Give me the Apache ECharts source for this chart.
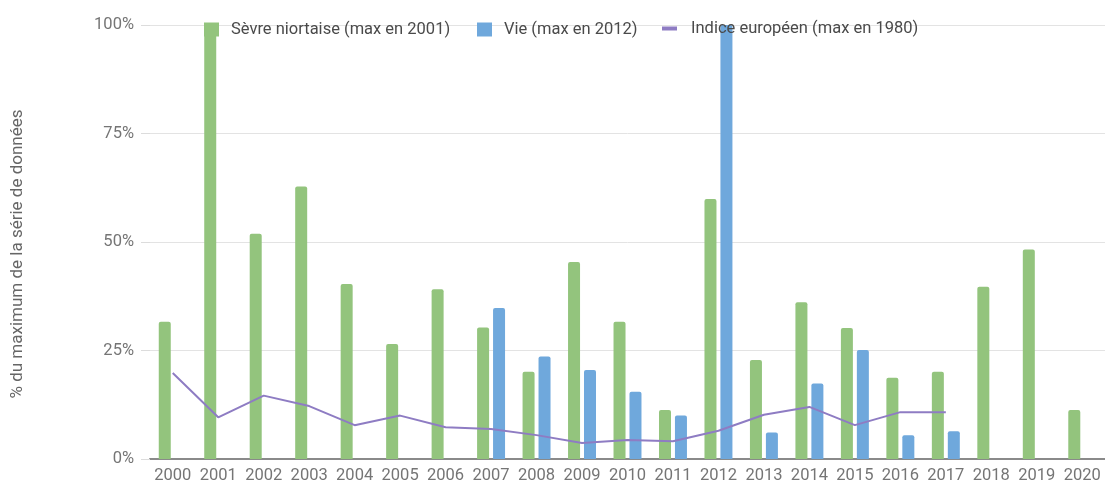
<!DOCTYPE html>
<html>
<head>
<meta charset="utf-8">
<script src="https://cdn.jsdelivr.net/npm/echarts@6/dist/echarts.min.js"></script>
<style>
html,body{margin:0;padding:0;background:#fff;}
#c{width:1105px;height:484px;}
</style>
</head>
<body>
<div id="c"></div>
<script>
var years = ['2000','2001','2002','2003','2004','2005','2006','2007','2008','2009','2010','2011','2012','2013','2014','2015','2016','2017','2018','2019','2020'];
var sevre = [31.6,100,51.9,62.8,40.3,26.5,39.1,30.3,20.1,45.4,31.6,11.3,59.9,22.8,36.1,30.2,18.7,20.1,39.7,48.3,11.3];
var vie = [null,null,null,null,null,null,null,34.8,23.6,20.5,15.5,10.0,100,6.1,17.4,25.1,5.5,6.4,null,null,null];
var indice = [19.8,9.6,14.6,12.2,7.8,10.0,7.3,6.9,5.5,3.7,4.4,4.1,6.5,10.2,12.0,7.8,10.8,10.8,null,null,null];
var seriesNames = ['Sèvre niortaise (max en 2001)','Vie (max en 2012)','Indice européen (max en 1980)'];
var yAxisTitle = '% du maximum de la série de données';

var green = '#93c47d', blue = '#6fa8dc', purple = '#8e7cc3';
var font = 'Roboto';
var chart = echarts.init(document.getElementById('c'));
function legend(name, left, top, icon, w, h, pad) {
  return {
    data: [{name: name, icon: icon}],
    left: left, top: top, padding: 0,
    itemWidth: w, itemHeight: h,
    textStyle: {fontFamily: font, fontSize: 16.5, color: '#4a4a4a', padding: [0,0,0,pad]},
    selectedMode: false
  };
}
chart.setOption({
  animation: false,
  textStyle: {fontFamily: font},
  grid: {left: 150, top: 25, width: 957, height: 435},
  legend: [
    legend(seriesNames[0], 204, 21, 'rect', 15, 14, 7),
    legend(seriesNames[1], 477, 21, 'rect', 15, 14, 7),
    legend(seriesNames[2], 662, 20, 'path://M0,0 L15,0 L15,4 L0,4 Z', 15, 4, 9)
  ],
  graphic: [{
    type: 'text', x: 18, y: 254, rotation: Math.PI/2,
    style: {text: yAxisTitle, fontFamily: font, fontSize: 17, fill: '#666', align: 'center', verticalAlign: 'middle'}
  }],
  xAxis: {
    type: 'category', data: years,
    axisLine: {lineStyle: {color: '#8a8a8a', width: 2}},
    axisTick: {show: false},
    axisLabel: {fontFamily: font, fontSize: 16.5, color: '#757575', margin: 8, interval: 0}
  },
  yAxis: {
    type: 'value', min: 0, max: 100, interval: 25,
    axisLine: {show: false},
    axisTick: {show: true, length: 9, lineStyle: {color: '#dcdcdc'}},
    splitLine: {lineStyle: {color: '#e3e3e3'}},
    axisLabel: {fontFamily: font, fontSize: 16.5, color: '#757575', margin: 16, formatter: '{value}%'}
  },
  series: [
    {name: seriesNames[0], type: 'bar', data: sevre, barWidth: 12, barGap: '33%',
     itemStyle: {color: green, borderRadius: [2,2,0,0]}},
    {name: seriesNames[1], type: 'bar', data: vie, barWidth: 12,
     itemStyle: {color: blue, borderRadius: [2,2,0,0]}},
    {name: seriesNames[2], type: 'line', data: indice, symbol: 'none', showSymbol: false,
     lineStyle: {color: purple, width: 2}, itemStyle: {color: purple}, z: 5}
  ]
});
</script>
</body>
</html>
